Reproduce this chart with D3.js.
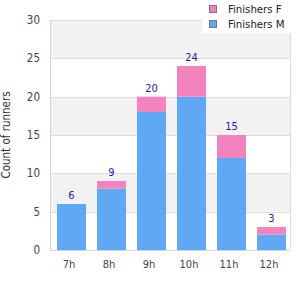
<!DOCTYPE html>
<html><head><meta charset="utf-8">
<script src="https://cdn.jsdelivr.net/npm/d3@7"></script>
<style>body{margin:0;background:#fff}svg{display:block}</style>
</head><body>
<script>
const categories = ["7h","8h","9h","10h","11h","12h"];
const finishersM = [6, 8, 18, 20, 12, 2];
const finishersF = [0, 1, 2, 4, 3, 1];
const totals = [6, 9, 20, 24, 15, 3];
const yTicks = [0, 5, 10, 15, 20, 25, 30];
const seriesNames = ["Finishers F", "Finishers M"];
const seriesColors = {"Finishers M": "#5fa8f4", "Finishers F": "#f283bc"};

const W = 300, H = 300;
const m = {l: 50, r: 10, t: 20, b: 50};
const svg = d3.select("body").append("svg").attr("width", W).attr("height", H)
  .style("font-family", "'DejaVu Sans Condensed', 'DejaVu Sans', sans-serif")
  .style("font-stretch", "condensed");

const y = d3.scaleLinear().domain([0, 30]).range([H - m.b, m.t]);
const x = d3.scaleBand().domain(categories).range([m.l + 1.5, W - m.r + 1.5])
  .paddingInner(0.275).paddingOuter(0.1375);

// alternating bands
for (let i = 0; i < yTicks.length - 1; i++) {
  svg.append("rect").attr("x", m.l).attr("width", W - m.r - m.l)
    .attr("y", y(yTicks[i + 1])).attr("height", y(yTicks[i]) - y(yTicks[i + 1]))
    .attr("fill", i % 2 === 1 ? "#f2f2f2" : "#ffffff");
}
// grid lines
svg.append("g").selectAll("line").data(yTicks).join("line")
  .attr("x1", m.l).attr("x2", W - m.r)
  .attr("y1", d => Math.round(y(d)) + 0.5).attr("y2", d => Math.round(y(d)) + 0.5)
  .attr("stroke", "#dcdcdc");
// borders
svg.append("line").attr("x1", W - m.r + 0.5).attr("x2", W - m.r + 0.5)
  .attr("y1", m.t).attr("y2", H - m.b).attr("stroke", "#dcdcdc");
svg.append("line").attr("x1", m.l + 0.5).attr("x2", m.l + 0.5)
  .attr("y1", m.t).attr("y2", H - m.b + 0.5).attr("stroke", "#d4d4d4");
svg.append("line").attr("x1", m.l).attr("x2", W - m.r)
  .attr("y1", H - m.b + 0.5).attr("y2", H - m.b + 0.5).attr("stroke", "#d4d4d4");

// stacked bars
const rows = categories.map((c, i) => ({cat: c, "Finishers M": finishersM[i], "Finishers F": finishersF[i]}));
const stack = d3.stack().keys(["Finishers M", "Finishers F"])(rows);
svg.append("g").selectAll("g").data(stack).join("g")
  .attr("fill", d => seriesColors[d.key])
  .selectAll("rect").data(d => d).join("rect")
  .attr("x", d => x(d.data.cat)).attr("width", x.bandwidth())
  .attr("y", d => y(d[1])).attr("height", d => y(d[0]) - y(d[1]));

// value labels
svg.append("g").selectAll("text").data(categories).join("text")
  .attr("x", d => x(d) + x.bandwidth() / 2)
  .attr("y", (d, i) => y(totals[i]) - 5)
  .attr("text-anchor", "middle").attr("font-size", 11).attr("fill", "#1f1f99")
  .text((d, i) => totals[i]);

// y ticks
svg.append("g").selectAll("text").data(yTicks).join("text")
  .attr("x", m.l - 10).attr("y", d => y(d)).attr("dy", "0.35em")
  .attr("text-anchor", "end").attr("font-size", 11.5).attr("fill", "#444")
  .text(d => d);
// x ticks
svg.append("g").selectAll("text").data(categories).join("text")
  .attr("x", d => x(d) + x.bandwidth() / 2 - 2.5).attr("y", H - m.b + 18)
  .attr("text-anchor", "middle").attr("font-size", 11).attr("fill", "#444")
  .text(d => d);
// y title
svg.append("text").attr("transform", `translate(10,${(m.t + H - m.b) / 2}) rotate(-90)`)
  .attr("text-anchor", "middle").attr("font-size", 11.5).attr("fill", "#333")
  .text("Count of runners");

// legend
const lg = svg.append("g");
lg.append("rect").attr("x", 202).attr("y", 0).attr("width", 98).attr("height", 33).attr("fill", "#fff");
seriesNames.forEach((s, i) => {
  lg.append("rect").attr("x", 209.5).attr("y", 5.5 + i * 15).attr("width", 7).attr("height", 7)
    .attr("fill", seriesColors[s]).attr("stroke", "#777");
  lg.append("text").attr("x", 228).attr("y", 9 + i * 15).attr("dy", "0.35em")
    .attr("font-size", 11.3).attr("fill", "#222").text(s);
});
</script>
</body></html>
